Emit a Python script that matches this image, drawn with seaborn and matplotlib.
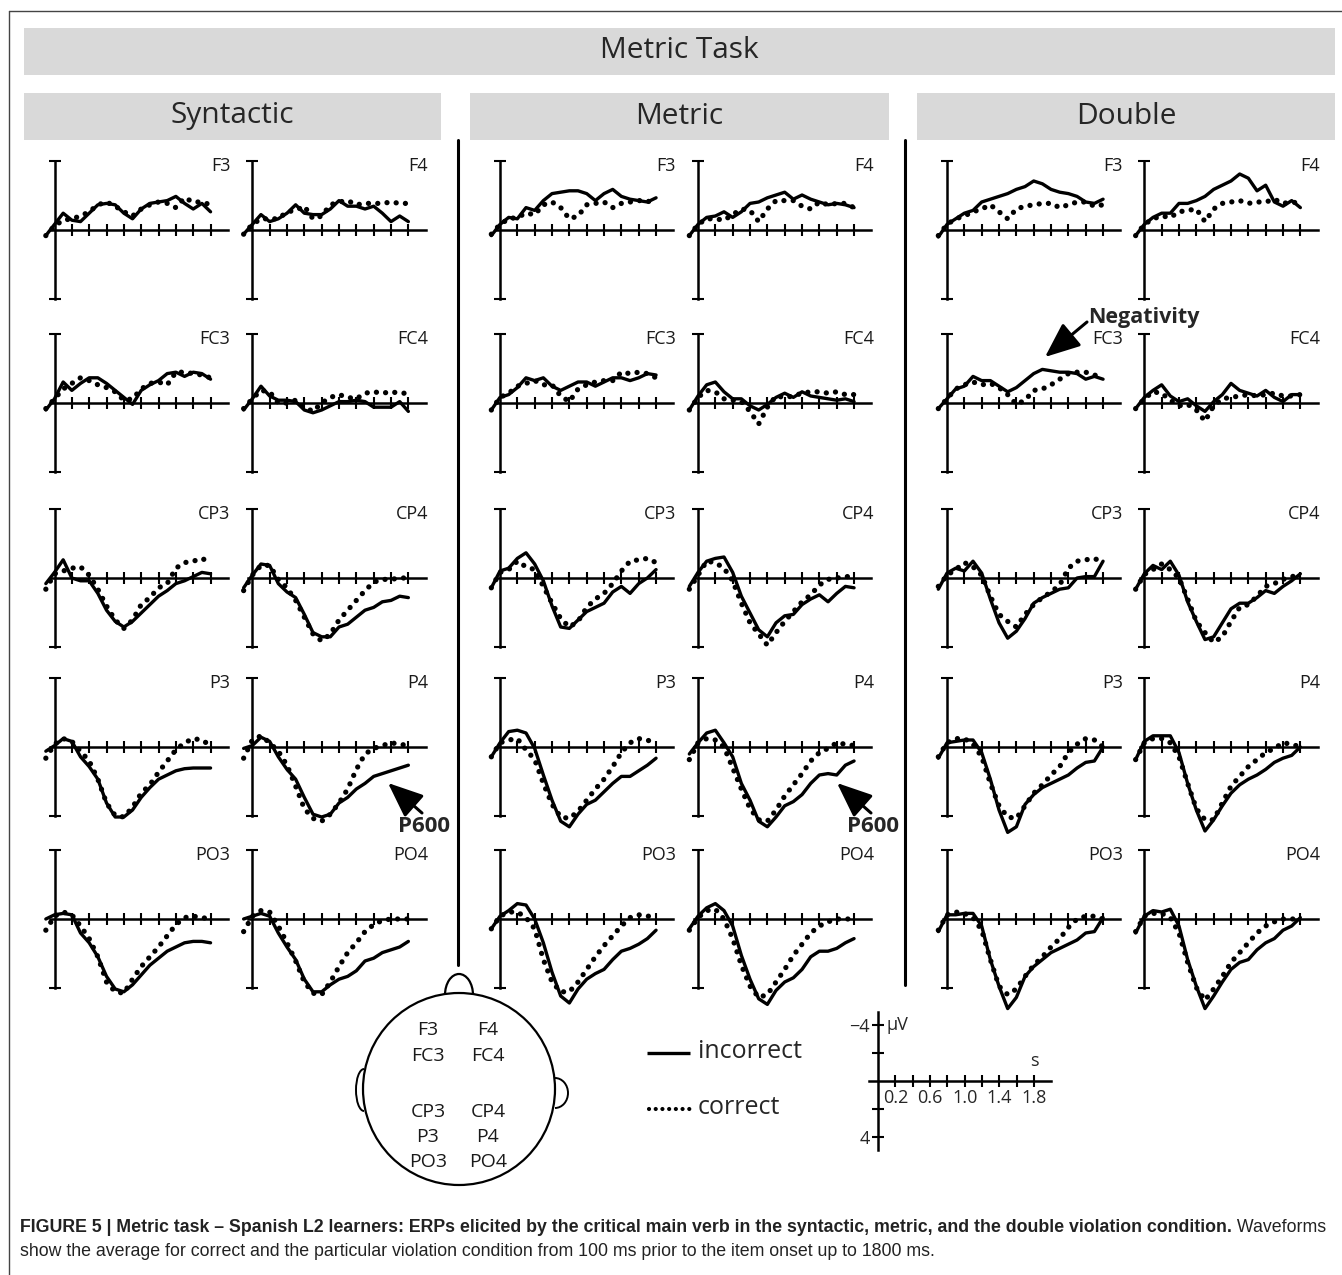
import numpy as np
import pandas as pd
import seaborn as sns
import matplotlib.pyplot as plt
from matplotlib.patches import Rectangle, Circle, Arc

sns.set_theme(style='white')
plt.rcParams['font.family'] = ['Open Sans', 'DejaVu Sans']

# sampling times (s) and electrode layout
TIMES = [-0.1, 0.0, 0.1, 0.2, 0.3, 0.4, 0.5, 0.6, 0.7, 0.8, 0.9,
         1.0, 1.1, 1.2, 1.3, 1.4, 1.5, 1.6, 1.7, 1.8]
ELECTRODES = ['F3', 'F4', 'FC3', 'FC4', 'CP3', 'CP4', 'P3', 'P4', 'PO3', 'PO4']
CONDITIONS = ['Syntactic', 'Metric', 'Double']
TICKS = [0.2, 0.4, 0.6, 0.8, 1.0, 1.2, 1.4, 1.6, 1.8]

# amplitudes in microvolt (negative plotted up)
SYN_INC = {
    'F3': [0.4, -0.4, -1.2, -0.7, -0.6, -1.2, -1.8, -1.9, -1.8, -1.2, -0.8, -1.5, -1.9, -2.0, -2.1, -2.4, -1.9, -1.5, -1.9, -1.3],
    'F4': [0.3, -0.4, -1.1, -0.6, -0.8, -1.2, -1.8, -1.2, -1.1, -1.1, -1.5, -2.1, -1.7, -1.7, -1.5, -1.7, -1.2, -0.6, -1.0, -0.6],
    'FC3': [0.5, -0.3, -1.5, -0.9, -1.4, -1.8, -1.8, -1.4, -0.9, -0.4, 0.1, -0.9, -1.3, -1.6, -2.1, -2.2, -1.9, -2.2, -2.1, -1.7],
    'FC4': [0.5, -0.3, -1.2, -0.5, -0.2, -0.2, -0.1, 0.5, 0.7, 0.5, 0.2, -0.1, -0.1, -0.2, -0.1, 0.3, 0.3, 0.3, -0.1, 0.6],
    'CP3': [0.4, -0.4, -1.3, 0.0, 0.2, 0.2, 1.1, 2.3, 3.1, 3.5, 3.1, 2.5, 1.9, 1.3, 0.9, 0.4, 0.2, -0.1, -0.4, -0.3],
    'CP4': [0.7, -0.2, -1.0, -0.9, 0.4, 1.0, 1.4, 2.6, 3.9, 4.2, 4.2, 3.5, 3.3, 2.8, 2.3, 2.1, 1.7, 1.6, 1.3, 1.4],
    'P3': [0.3, -0.1, -0.6, -0.4, 0.7, 1.4, 2.3, 4.0, 5.0, 5.0, 4.5, 3.6, 2.9, 2.3, 2.0, 1.7, 1.55, 1.5, 1.5, 1.5],
    'P4': [0.1, -0.1, -0.7, -0.4, 0.7, 1.6, 2.3, 3.6, 4.8, 5.0, 4.8, 4.0, 3.6, 3.0, 2.6, 2.1, 1.9, 1.7, 1.5, 1.3],
    'PO3': [0.0, -0.3, -0.4, -0.3, 1.0, 1.7, 2.7, 4.1, 5.0, 5.2, 4.7, 4.0, 3.3, 2.8, 2.3, 2.0, 1.7, 1.6, 1.6, 1.7],
    'PO4': [0.0, -0.2, -0.4, -0.2, 1.0, 2.0, 2.9, 4.3, 5.2, 5.2, 4.7, 4.3, 4.1, 3.7, 3.0, 2.8, 2.4, 2.2, 2.0, 1.6],
}
SYN_COR = {
    'F3': [0.4, -0.3, -0.7, -0.8, -1.0, -1.3, -1.8, -2.0, -1.7, -1.3, -1.0, -1.5, -1.8, -2.0, -1.9, -1.6, -2.3, -2.0, -2.0, -1.8],
    'F4': [0.3, -0.4, -0.8, -0.8, -0.8, -1.3, -1.4, -1.7, -0.8, -1.0, -1.8, -2.0, -2.1, -1.8, -1.9, -1.9, -1.9, -2.0, -1.9, -1.9],
    'FC3': [0.4, -0.3, -1.0, -1.4, -1.8, -1.6, -1.3, -1.1, -0.8, -0.2, -0.3, -1.0, -1.4, -1.5, -1.3, -2.2, -2.2, -2.1, -2.0, -1.8],
    'FC4': [0.4, -0.3, -0.9, -0.8, 0.0, 0.0, -0.2, 0.3, 0.6, 0.0, -0.4, -0.6, -0.4, -0.3, -0.7, -0.8, -0.7, -0.8, -0.7, -0.7],
    'CP3': [0.8, -0.3, -0.5, -0.7, -0.8, -0.2, 0.8, 2.0, 3.0, 3.6, 3.0, 1.9, 1.4, 0.7, 0.4, -0.7, -1.1, -1.2, -1.4, -1.1],
    'CP4': [0.9, -0.2, -0.9, -0.9, 0.1, 0.7, 1.6, 2.8, 4.0, 4.5, 4.0, 3.0, 2.3, 1.6, 0.9, 0.3, 0.1, 0.1, 0.0, 0.0],
    'P3': [0.8, -0.2, -0.6, -0.4, 0.3, 1.0, 2.3, 4.0, 4.9, 5.0, 4.3, 3.3, 2.7, 1.8, 1.0, 0.2, -0.3, -0.6, -0.5, -0.1],
    'P4': [0.8, -0.5, -0.8, -0.3, 0.3, 1.3, 2.8, 4.4, 5.1, 5.3, 4.8, 4.0, 3.0, 1.6, 0.5, 0.1, -0.1, -0.3, -0.2, -0.1],
    'PO3': [0.8, -0.2, -0.5, -0.3, 0.5, 1.4, 2.7, 4.5, 5.2, 5.3, 4.3, 3.4, 2.7, 2.0, 1.2, 0.4, -0.1, -0.2, -0.1, 0.0],
    'PO4': [0.9, -0.2, -0.6, -0.5, 0.5, 1.7, 3.0, 4.5, 5.3, 5.4, 4.5, 3.4, 2.4, 1.7, 0.9, 0.4, 0.1, 0.0, 0.0, 0.0],
}
MET_INC = {
    'F3': [0.4, -0.4, -0.9, -0.8, -1.6, -1.4, -2.1, -2.6, -2.7, -2.8, -2.8, -2.6, -2.1, -2.6, -2.9, -2.4, -2.2, -2.1, -2.0, -2.3],
    'F4': [0.4, -0.4, -0.9, -1.0, -1.3, -0.9, -1.3, -1.9, -2.0, -2.3, -2.5, -2.7, -2.2, -2.5, -2.2, -2.0, -1.8, -1.9, -1.8, -1.6],
    'FC3': [0.5, -0.4, -0.6, -1.1, -1.8, -1.6, -1.8, -1.2, -0.9, -1.2, -1.5, -1.5, -1.2, -1.5, -1.8, -1.8, -1.6, -1.8, -2.1, -2.0],
    'FC4': [0.5, -0.5, -1.3, -1.5, -0.8, -0.3, -0.3, 0.2, 0.5, 0.1, -0.4, -0.7, -0.4, -0.8, -0.5, -0.4, -0.3, -0.2, -0.3, -0.1],
    'CP3': [0.7, -0.5, -0.7, -1.4, -1.8, -1.0, 0.2, 2.0, 3.5, 3.6, 3.0, 2.4, 2.1, 1.8, 1.0, 0.6, 1.1, 0.4, 0.0, -0.6],
    'CP4': [0.6, -0.4, -1.2, -1.4, -1.5, -0.4, 1.3, 2.5, 3.7, 4.2, 3.2, 2.7, 2.6, 1.9, 1.5, 1.2, 1.7, 1.1, 0.6, 0.7],
    'P3': [0.7, -0.3, -1.1, -1.2, -1.0, 0.1, 2.0, 3.8, 5.3, 5.7, 4.8, 4.1, 3.8, 3.2, 2.6, 2.1, 2.1, 1.7, 1.3, 0.8],
    'P4': [0.5, -0.3, -1.0, -1.2, -0.3, 0.7, 2.6, 3.8, 5.3, 5.7, 5.0, 4.2, 3.9, 3.4, 2.6, 2.0, 1.9, 2.0, 1.3, 1.0],
    'PO3': [0.7, -0.2, -0.6, -1.1, -1.0, 0.0, 1.7, 3.8, 5.5, 6.0, 5.0, 4.3, 3.9, 3.6, 2.9, 2.3, 2.1, 1.8, 1.4, 0.8],
    'PO4': [0.7, -0.2, -0.8, -1.1, -0.6, 0.5, 2.6, 4.3, 5.7, 6.1, 5.1, 4.5, 4.2, 3.6, 2.7, 2.3, 2.3, 2.1, 1.7, 1.4],
}
MET_COR = {
    'F3': [0.3, -0.4, -0.8, -0.9, -1.2, -1.1, -1.8, -2.0, -1.6, -0.8, -1.0, -1.8, -1.9, -2.0, -1.6, -1.9, -2.0, -2.1, -2.1, -1.7],
    'F4': [0.4, -0.4, -0.8, -0.8, -0.7, -1.1, -1.5, -1.4, -0.6, -1.5, -2.1, -2.1, -2.1, -1.7, -1.5, -2.0, -1.8, -1.9, -1.9, -1.6],
    'FC3': [0.5, -0.4, -0.7, -1.2, -1.4, -1.6, -1.3, -1.3, -0.5, -0.1, -1.0, -1.3, -1.5, -1.6, -1.6, -2.2, -2.1, -2.2, -2.1, -1.8],
    'FC4': [0.5, -0.4, -0.9, -0.8, -0.3, -0.2, -0.1, 0.6, 1.5, 0.3, -0.5, -0.4, -0.5, -0.7, -0.8, -0.8, -0.7, -0.8, -0.6, -0.6],
    'CP3': [0.7, -0.4, -0.6, -1.2, -0.8, -0.6, 0.6, 1.8, 2.9, 3.5, 3.1, 2.1, 1.5, 1.1, 0.4, -0.5, -1.2, -1.3, -1.4, -1.1],
    'CP4': [0.8, -0.2, -1.2, -1.1, -0.7, 0.2, 1.8, 3.2, 4.0, 4.8, 3.9, 3.1, 2.4, 1.7, 1.2, 0.5, 0.1, 0.0, -0.1, -0.1],
    'P3': [0.7, -0.3, -0.5, -0.6, 0.2, 0.9, 2.6, 4.1, 5.0, 5.1, 4.6, 3.8, 3.0, 2.3, 1.4, 0.4, -0.3, -0.6, -0.5, -0.2],
    'P4': [0.9, -0.3, -0.6, -0.5, 0.0, 1.5, 3.0, 4.4, 5.2, 5.3, 4.5, 3.5, 2.7, 1.9, 1.0, 0.4, 0.1, -0.3, -0.2, -0.1],
    'PO3': [0.7, -0.2, -0.5, -0.5, -0.1, 0.7, 2.9, 4.5, 5.2, 5.2, 4.5, 3.6, 2.7, 1.9, 1.2, 0.5, -0.1, -0.3, -0.2, -0.2],
    'PO4': [0.8, -0.1, -0.6, -0.7, 0.0, 1.4, 3.3, 4.8, 5.6, 5.4, 4.5, 3.6, 2.6, 1.8, 1.0, 0.5, 0.2, 0.0, 0.0, 0.0],
}
DBL_INC = {
    'F3': [0.5, -0.4, -0.8, -1.2, -1.4, -2.0, -2.2, -2.4, -2.6, -2.9, -3.1, -3.5, -3.3, -2.9, -2.7, -2.6, -2.4, -2.0, -1.9, -2.2],
    'F4': [0.4, -0.4, -0.9, -1.2, -1.2, -1.9, -1.9, -2.1, -2.4, -2.9, -3.2, -3.5, -4.0, -3.7, -2.8, -3.2, -2.0, -1.7, -2.1, -1.6],
    'FC3': [0.4, -0.3, -1.0, -1.2, -1.9, -1.6, -1.6, -1.2, -0.8, -1.1, -1.6, -2.1, -2.4, -2.3, -2.2, -2.2, -2.1, -1.7, -1.9, -1.7],
    'FC4': [0.4, -0.4, -0.9, -1.3, -0.5, -0.1, -0.3, 0.2, 0.6, -0.1, -0.6, -1.4, -0.9, -0.7, -0.5, -0.9, -0.4, -0.1, -0.6, -0.6],
    'CP3': [0.8, -0.35, -0.7, -0.5, -1.2, -0.35, 1.5, 3.2, 4.3, 3.8, 2.9, 1.8, 1.4, 1.1, 0.8, 0.7, 0.0, -0.1, -0.1, -1.2],
    'CP4': [0.8, -0.3, -0.9, -0.6, -1.2, -0.2, 1.7, 3.1, 4.4, 4.2, 3.2, 2.2, 1.8, 1.8, 1.4, 0.9, 1.1, 0.6, 0.2, -0.3],
    'P3': [0.8, -0.3, -0.4, -0.5, -0.5, 0.4, 2.3, 4.5, 6.1, 5.7, 4.1, 3.4, 2.9, 2.6, 2.3, 2.0, 1.5, 1.1, 1.0, 0.0],
    'P4': [0.9, -0.4, -0.8, -0.8, -0.8, 0.4, 2.6, 4.5, 6.0, 5.2, 4.2, 3.3, 2.7, 2.3, 2.0, 1.6, 1.1, 0.8, 0.6, 0.0],
    'PO3': [0.9, -0.3, -0.3, -0.4, -0.4, 0.5, 2.9, 4.8, 6.4, 5.6, 4.1, 3.4, 2.9, 2.4, 2.1, 1.8, 1.5, 1.0, 0.9, -0.1],
    'PO4': [1.0, -0.2, -0.6, -0.5, -0.7, 0.5, 2.9, 4.8, 6.4, 5.5, 4.5, 3.6, 3.1, 2.9, 2.2, 1.7, 1.4, 0.8, 0.5, -0.1],
}
DBL_COR = {
    'F3': [0.4, -0.4, -0.8, -1.0, -1.3, -1.5, -1.8, -1.3, -0.8, -1.5, -1.7, -1.8, -1.9, -1.9, -1.6, -1.8, -2.0, -2.0, -1.7, -1.8],
    'F4': [0.4, -0.4, -0.8, -1.0, -0.9, -1.3, -1.4, -1.5, -0.6, -1.5, -1.9, -2.0, -2.1, -1.9, -2.0, -2.0, -2.2, -1.9, -2.0, -1.9],
    'FC3': [0.4, -0.3, -1.0, -1.3, -1.5, -1.3, -1.4, -1.1, -0.6, 0.1, -0.2, -0.9, -1.0, -1.3, -1.7, -2.1, -2.2, -2.2, -2.0, -1.8],
    'FC4': [0.4, -0.3, -0.8, -0.7, -0.2, 0.2, 0.1, 0.5, 1.3, 0.2, -0.3, -0.4, -0.5, -0.6, -0.5, -0.6, -0.7, -0.5, -0.5, -0.6],
    'CP3': [0.6, -0.2, -0.6, -1.1, -0.8, -0.2, 1.3, 2.6, 3.1, 3.5, 2.6, 1.9, 1.4, 1.0, 0.5, -0.7, -1.2, -1.3, -1.4, -1.1],
    'CP4': [0.8, -0.25, -0.6, -1.0, -0.6, 0.0, 1.5, 3.1, 3.9, 4.6, 4.2, 3.1, 2.1, 1.9, 1.3, 0.6, 0.4, 0.1, -0.1, -0.2],
    'P3': [0.7, -0.3, -0.6, -0.6, -0.2, 0.7, 2.6, 4.2, 5.0, 5.1, 4.2, 3.3, 2.7, 2.0, 1.4, 0.4, -0.2, -0.6, -0.5, 0.0],
    'P4': [0.9, -0.3, -0.6, -0.6, -0.3, 0.7, 2.6, 4.4, 5.2, 5.2, 4.0, 2.8, 2.1, 1.4, 0.9, 0.4, 0.1, -0.3, -0.2, 0.0],
    'PO3': [0.8, -0.3, -0.5, -0.4, -0.1, 0.8, 2.9, 4.8, 5.4, 5.0, 4.1, 3.3, 2.7, 2.0, 1.4, 0.6, 0.0, -0.2, -0.2, 0.0],
    'PO4': [0.9, -0.2, -0.4, -0.4, -0.1, 1.0, 3.1, 4.9, 5.8, 5.0, 4.1, 3.1, 2.4, 1.7, 1.0, 0.5, 0.2, 0.0, 0.0, 0.0],
}
GROUPS = [(SYN_INC, SYN_COR), (MET_INC, MET_COR), (DBL_INC, DBL_COR)]

# page geometry in pixels
W, H = 1342, 1275
SX, SY = 86.7, 14.0           # px per second, px per microvolt
XLIM = (-0.2, 2.35)
YLIM = (-5.8, 7.0)
COL_X = [[54.5, 252.3], [500.0, 698.0], [947.0, 1144.3]]
ROW_Y = [230, 403, 578, 747, 919]

fig = plt.figure(figsize=(W / 100, H / 100), dpi=100)
bg = fig.add_axes([0, 0, 1, 1])
bg.set_xlim(0, W)
bg.set_ylim(H, 0)
bg.axis('off')


def erp_axes(x0, y0):
    left = x0 + XLIM[0] * SX
    right = x0 + XLIM[1] * SX
    top = y0 + YLIM[0] * SY
    bottom = y0 + YLIM[1] * SY
    ax = fig.add_axes([left / W, 1 - bottom / H, (right - left) / W, (bottom - top) / H])
    ax.patch.set_visible(False)
    for s in ['top', 'right']:
        ax.spines[s].set_visible(False)
    for s in ['left', 'bottom']:
        ax.spines[s].set_position(('data', 0))
        ax.spines[s].set_linewidth(1.8)
        ax.spines[s].set_color('black')
    ax.tick_params(axis='both', direction='inout', length=9, width=1.5, color='black',
                   bottom=True, left=True, labelsize=10.5, pad=2)
    return ax


def set_limits(ax):
    ax.set_xlim(*XLIM)
    ax.set_ylim(YLIM[1], YLIM[0])
    ax.set_xlabel('')
    ax.set_ylabel('')


def draw_panel(x0, y0, name, inc, cor):
    ax = erp_axes(x0, y0)
    df = pd.DataFrame({'time': TIMES, 'incorrect': inc, 'correct': cor})
    sns.lineplot(data=df, x='time', y='correct', ax=ax, color='black', lw=3.8,
                 ls=(0, (0.01, 1.75)), dash_capstyle='round')
    sns.lineplot(data=df, x='time', y='incorrect', ax=ax, color='black', lw=2.4)
    set_limits(ax)
    ax.spines['left'].set_bounds(-4.9, 4.9)
    ax.spines['bottom'].set_bounds(-0.05, 2.0)
    ax.set_xticks(TICKS)
    ax.set_yticks([-4.9, 4.9])
    ax.tick_params(labelbottom=False, labelleft=False)
    ax.text(2.03, -4.55, name, ha='right', va='center', fontsize=13, color='#1a1a1a')


# frame, header bands and separators
bg.plot([9, W], [11, 11], color='#444444', lw=1)
bg.plot([9, 9], [11, H], color='#444444', lw=1)
bg.add_patch(Rectangle((24, 28), 1311, 47, color='#d9d9d9', lw=0))
bg.text(679.5, 51, 'Metric Task', ha='center', va='center', fontsize=21.5)
for (x1, x2), title in zip([(24, 441), (470, 889), (917, 1335)], CONDITIONS):
    bg.add_patch(Rectangle((x1, 92.5), x2 - x1, 47, color='#d9d9d9', lw=0))
    bg.text((x1 + x2) / 2, 116, title, ha='center', va='center', fontsize=21.5)
bg.plot([458, 458], [140, 965], color='black', lw=2.2)
bg.plot([905, 905], [140, 985], color='black', lw=2.2)

# ERP panels
for g, (inc, cor) in enumerate(GROUPS):
    for i, name in enumerate(ELECTRODES):
        draw_panel(COL_X[g][i % 2], ROW_Y[i // 2], name, inc[name], cor[name])

# annotations
arrow = dict(arrowstyle='-|>,head_length=1.2,head_width=0.5', color='black', lw=2.2,
             mutation_scale=18, shrinkA=0, shrinkB=0)
bg.annotate('', xy=(1045, 357), xytext=(1087, 322), arrowprops=arrow)
bg.text(1088, 318, 'Negativity', ha='left', va='center', fontsize=15.5, fontweight='bold')
for xt in [388, 837]:
    bg.annotate('', xy=(xt, 783), xytext=(xt + 34, 813), arrowprops=arrow)
    bg.text(xt + 10, 826, 'P600', ha='left', va='center', fontsize=16, fontweight='bold')

# head schematic
bg.add_patch(Circle((459, 1089), 96, fill=False, ec='black', lw=1.6))
bg.add_patch(Arc((459, 995), 28, 42, theta1=180, theta2=360, ec='black', lw=1.6))
bg.add_patch(Arc((364, 1090), 16, 42, theta1=90, theta2=270, ec='black', lw=1.4))
bg.add_patch(Arc((555, 1093), 26, 30, theta1=-90, theta2=90, ec='black', lw=1.4))
for i, name in enumerate(ELECTRODES):
    ypos = [1030, 1056, 1112, 1137, 1162][i // 2]
    xpos = [428, 488][i % 2]
    bg.text(xpos, ypos, name, ha='center', va='center', fontsize=14, color='#1a1a1a')

# legend
bg.plot([647, 690], [1053, 1053], color='black', lw=2.4, solid_capstyle='butt')
bg.plot([649, 690], [1109, 1109], color='black', lw=3.0, ls=(0, (0.01, 1.6)),
        dash_capstyle='round')
bg.text(698, 1051, 'incorrect', ha='left', va='center', fontsize=18)
bg.text(698, 1107, 'correct', ha='left', va='center', fontsize=18)

# scale bar
sc = erp_axes(878, 1081)
set_limits(sc)
sc.spines['left'].set_bounds(-4.9, 4.9)
sc.spines['bottom'].set_bounds(-0.1, 2.0)
sc.set_xticks(TICKS, labels=['0.2', '', '0.6', '', '1.0', '', '1.4', '', '1.8'])
sc.set_yticks([-4, -2, 2, 4], labels=['\u22124', '', '', '4'])
sc.tick_params(length=9, labelsize=13, pad=1.5)
sc.text(0.1, -4.0, '\u00b5V', ha='left', va='center', fontsize=13)
sc.text(1.8, -0.8, 's', ha='center', va='bottom', fontsize=13)

# caption, fitted to the text block width
bold_txt = ('FIGURE 5 | Metric task \u2013 Spanish L2 learners: ERPs elicited by the critical main '
            'verb in the syntactic, metric, and the double violation condition.')
reg_txt = ' Waveforms'
line2 = ('show the average for correct and the particular violation condition from 100 ms '
         'prior to the item onset up to 1800 ms.')
cap_font = ['Liberation Sans', 'DejaVu Sans']
t1 = bg.text(20, 1227, bold_txt, ha='left', va='center', fontsize=12, fontweight='bold',
             family=cap_font, color='#222222')
t2 = bg.text(20, 1227, reg_txt, ha='left', va='center', fontsize=12, family=cap_font,
             color='#222222')
t3 = bg.text(20, 1251, line2, ha='left', va='center', fontsize=12, family=cap_font,
             color='#222222')
rend = fig.canvas.get_renderer()
size = 12.0
for _ in range(3):
    t2.set_x(20 + t1.get_window_extent(rend).width)
    right_edge = t2.get_window_extent(rend).x1
    size = size * (1334 - 20) / (right_edge - 20)
    for t in (t1, t2, t3):
        t.set_fontsize(size)
t2.set_x(20 + t1.get_window_extent(rend).width)

fig.savefig('out.png', dpi=100)
